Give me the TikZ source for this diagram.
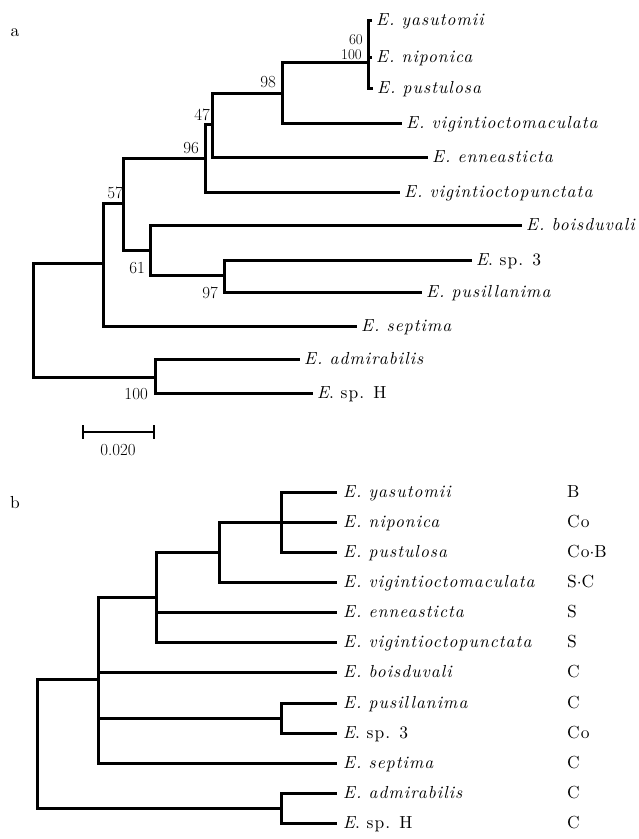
\documentclass[tikz,border=0pt]{standalone}
\usepackage{fontspec}
\newfontfamily\specfont[Extension=.otf, UprightFont=*-regular, ItalicFont=*-italic, LetterSpace=6]{lmroman10}
\newcommand{\myspfont}{\fontsize{17.5}{20}\specfont}
\newcommand{\mybsfont}{\fontsize{17}{20}\selectfont}
\newcommand{\mysmfont}{\fontsize{15}{17}\selectfont}
\begin{document}
\begin{tikzpicture}[x=1bp,y=-1bp,
  br/.style={line width=3bp},
  tiplab/.style={anchor=base west, inner sep=0pt, font=\myspfont, xshift=4bp, yshift=-5.8bp},
  collab/.style={anchor=base west, inner sep=0pt, font=\myspfont, yshift=-5.8bp},
  boot/.style={anchor=east, inner sep=0pt, font=\mybsfont},
  bootsm/.style={anchor=east, inner sep=0pt, font=\mysmfont},
  panel/.style={inner sep=0pt, font=\myspfont}]
\useasboundingbox (0,0) rectangle (639,839);

% ---------------- panel a ----------------
\node[panel] (pa) at (15,33) {a};
\coordinate (aR) at (33,320);
\coordinate (a57) at (103,263);
\coordinate (aM) at (123,203);
\coordinate (a96) at (205,158);
\coordinate (a47) at (212,124);
\coordinate (a98) at (282,93);
\coordinate (a100) at (368,62);
\coordinate (a61) at (150,250);
\coordinate (a97) at (224,275);
\coordinate (aH) at (155,377);

\coordinate (aya) at (372,20);
\coordinate (ani) at (372,57);
\coordinate (apu) at (373,88);
\coordinate (avm) at (402,123);
\coordinate (aen) at (428,157);
\coordinate (avp) at (400,192);
\coordinate (abo) at (522,225);
\coordinate (as3) at (472,260);
\coordinate (apl) at (422,292);
\coordinate (ase) at (357,326);
\coordinate (aad) at (300,359);
\coordinate (ash) at (313,393);

\draw[br] (aR) |- (a57);
\draw[br] (aR) |- (aH);
\draw[br] (a57) |- (aM);
\draw[br] (a57) |- (ase);
\draw[br] (aM) |- (a96);
\draw[br] (aM) |- (a61);
\draw[br] (a96) |- (a47);
\draw[br] (a96) |- (avp);
\draw[br] (a47) |- (a98);
\draw[br] (a47) |- (aen);
\draw[br] (a98) |- (a100);
\draw[br] (a98) |- (avm);
\draw[br] (a100) |- (aya);
\draw[br] (a100) |- (ani);
\draw[br] (a100) |- (apu);
\draw[br] (a61) |- (abo);
\draw[br] (a61) |- (a97);
\draw[br] (a97) |- (as3);
\draw[br] (a97) |- (apl);
\draw[br] (aH) |- (aad);
\draw[br] (aH) |- (ash);

\node[tiplab] (tya) at (aya) {\textit{E. yasutomii}};
\node[tiplab] (tni) at (ani) {\textit{E. niponica}};
\node[tiplab] (tpu) at (apu) {\textit{E. pustulosa}};
\node[tiplab] (tvm) at (avm) {\textit{E. vigintioctomaculata}};
\node[tiplab] (ten) at (aen) {\textit{E. enneasticta}};
\node[tiplab] (tvp) at (avp) {\textit{E. vigintioctopunctata}};
\node[tiplab] (tbo) at (abo) {\textit{E. boisduvali}};
\node[tiplab] (ts3) at (as3) {\textit{E}. sp. 3};
\node[tiplab] (tpl) at (apl) {\textit{E. pusillanima}};
\node[tiplab] (tse) at (ase) {\textit{E. septima}};
\node[tiplab] (tad) at (aad) {\textit{E. admirabilis}};
\node[tiplab] (tsh) at (ash) {\textit{E}. sp. H};

\node[bootsm] (b60) at (363,40) {60};
\node[bootsm] (b100t) at (362,55) {100};
\node[boot] (b98) at (276,82) {98};
\node[boot] (b47) at (210,115) {47};
\node[boot] (b96) at (199,148) {96};
\node[boot] (b57) at (123,193) {57};
\node[boot] (b61) at (145,268) {61};
\node[boot] (b97) at (218,293) {97};
\node[boot] (b100) at (148,394) {100};

% scale bar
\coordinate (sb1) at (83,432);
\coordinate (sb2) at (154,432);
\draw[line width=2.6bp] (sb1) -- (sb2);
\draw[line width=2.6bp] ([yshift=7bp]sb1) -- ([yshift=-7bp]sb1);
\draw[line width=2.6bp] ([yshift=7bp]sb2) -- ([yshift=-7bp]sb2);
\node[inner sep=0pt, font=\mybsfont] (sblab) at (118,450) {0.020};

% ---------------- panel b ----------------
\node[panel] (pb) at (15,503) {b};
\coordinate (bR) at (37,740);
\coordinate (b4) at (98,679);
\coordinate (b3) at (156,597);
\coordinate (b2) at (219,552);
\coordinate (b1) at (281,522);
\coordinate (b5) at (281,718);
\coordinate (b6) at (281,808);

\coordinate (bya) at (337,492);
\coordinate (bni) at (337,522);
\coordinate (bpu) at (337,552);
\coordinate (bvm) at (337,582);
\coordinate (ben) at (337,612);
\coordinate (bvp) at (337,642);
\coordinate (bbo) at (337,672);
\coordinate (bpl) at (337,703);
\coordinate (bs3) at (337,733);
\coordinate (bse) at (337,763);
\coordinate (bad) at (337,793);
\coordinate (bsh) at (337,823);

\draw[br] (bR) |- (b4);
\draw[br] (bR) |- (b6);
\draw[br] (b4) |- (b3);
\draw[br] (b4) |- (bbo);
\draw[br] (b4) |- (b5);
\draw[br] (b4) |- (bse);
\draw[br] (b3) |- (b2);
\draw[br] (b3) |- (ben);
\draw[br] (b3) |- (bvp);
\draw[br] (b2) |- (b1);
\draw[br] (b2) |- (bvm);
\draw[br] (b1) |- (bya);
\draw[br] (b1) |- (bni);
\draw[br] (b1) |- (bpu);
\draw[br] (b5) |- (bpl);
\draw[br] (b5) |- (bs3);
\draw[br] (b6) |- (bad);
\draw[br] (b6) |- (bsh);

\node[tiplab, xshift=2bp] (uya) at (bya) {\textit{E. yasutomii}};
\node[tiplab, xshift=2bp] (uni) at (bni) {\textit{E. niponica}};
\node[tiplab, xshift=2bp] (upu) at (bpu) {\textit{E. pustulosa}};
\node[tiplab, xshift=2bp] (uvm) at (bvm) {\textit{E. vigintioctomaculata}};
\node[tiplab, xshift=2bp] (uen) at (ben) {\textit{E. enneasticta}};
\node[tiplab, xshift=2bp] (uvp) at (bvp) {\textit{E. vigintioctopunctata}};
\node[tiplab, xshift=2bp] (ubo) at (bbo) {\textit{E. boisduvali}};
\node[tiplab, xshift=2bp] (upl) at (bpl) {\textit{E. pusillanima}};
\node[tiplab, xshift=2bp] (us3) at (bs3) {\textit{E}. sp. 3};
\node[tiplab, xshift=2bp] (use) at (bse) {\textit{E. septima}};
\node[tiplab, xshift=2bp] (uad) at (bad) {\textit{E. admirabilis}};
\node[tiplab, xshift=2bp] (ush) at (bsh) {\textit{E}. sp. H};

\node[collab] (cya) at (567,492) {B};
\node[collab] (cni) at (567,522) {Co};
\node[collab] (cpu) at (567,552) {Co$\cdot$B};
\node[collab] (cvm) at (567,582) {S$\cdot$C};
\node[collab] (cen) at (567,612) {S};
\node[collab] (cvp) at (567,642) {S};
\node[collab] (cbo) at (567,672) {C};
\node[collab] (cpl) at (567,703) {C};
\node[collab] (cs3) at (567,733) {Co};
\node[collab] (cse) at (567,763) {C};
\node[collab] (cad) at (567,793) {C};
\node[collab] (csh) at (567,823) {C};
\end{tikzpicture}
\end{document}
